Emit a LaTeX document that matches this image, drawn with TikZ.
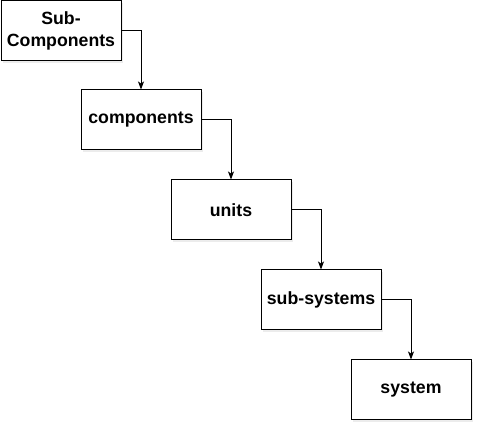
\documentclass[tikz,border=0pt]{standalone}
\usepackage{fontspec}
\setmainfont{Liberation Sans}
\usetikzlibrary{arrows.meta,positioning,shadows}
\definecolor{ink}{HTML}{000000}
\tikzset{
  level/.style={draw=ink,line width=1pt,fill=white,align=center,font=\fontsize{17.7}{22}\selectfont\bfseries,minimum width=120pt,minimum height=60pt,inner sep=2pt,drop shadow={opacity=0.15,shadow xshift=2pt,shadow yshift=-2pt}},
  flow/.style={-{Stealth[length=8pt,width=6pt,inset=2pt]},line width=1pt,draw=ink}
}
\begin{document}
\begin{tikzpicture}[x=1pt,y=-1pt]
  \useasboundingbox (0,0) rectangle (483,433);
  \node[level] (sub) at (61,31) {Sub-\\Components};
  \node[level] (comp) at (141,120) {components};
  \node[level] (unit) at (231,210) {units};
  \node[level] (subsys) at (321,300) {sub-systems};
  \node[level] (sys) at (411,390) {system};
  \draw[flow] (sub.east) -| (comp.north);
  \draw[flow] (comp.east) -| (unit.north);
  \draw[flow] (unit.east) -| (subsys.north);
  \draw[flow] (subsys.east) -| (sys.north);
\end{tikzpicture}
\end{document}
